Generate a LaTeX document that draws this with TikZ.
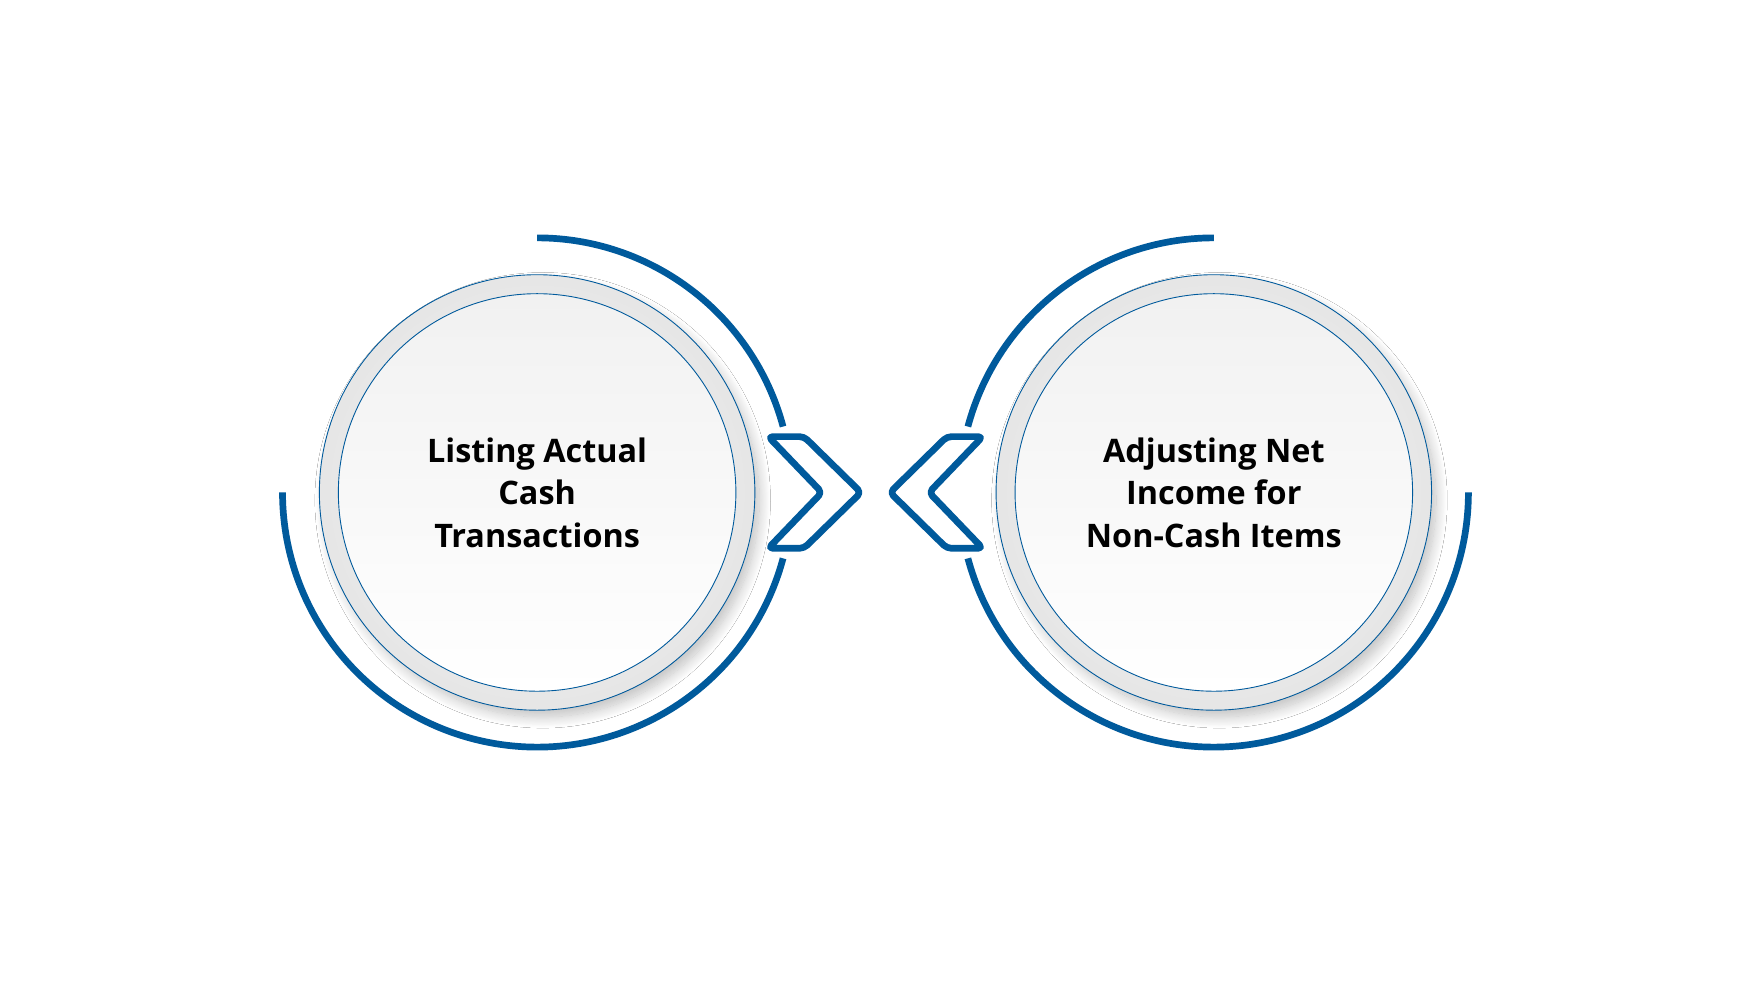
\documentclass[tikz,border=0pt]{standalone}
\usepackage{fontspec}
\setmainfont{Open Sans}
\usetikzlibrary{shadows.blur}
\definecolor{cblue}{RGB}{0,90,156}
\begin{document}
\begin{tikzpicture}[x=1pt,y=-1pt,
  arcline/.style={draw=cblue,line width=6pt},
  chev/.style={draw=cblue,line width=6pt,fill=white,rounded corners=4pt,line join=round},
  lbl/.style={font=\bfseries\fontsize{29}{38}\selectfont,align=center,text=black}]
\useasboundingbox (0,0) rectangle (1560,878);
\fill[white] (0,0) rectangle (1560,878);
\foreach \cx/\nm in {481/L,1087/R}{
  \fill[white,blur shadow={shadow blur steps=15,shadow xshift=5pt,shadow yshift=-7pt,shadow blur radius=10pt,shadow opacity=25}] (\cx,441) circle (194);
  \shade[inner color=gray!4,outer color=gray!20,draw=cblue,line width=0.8pt] (\cx,441) circle (195);
  \shade[top color=gray!11,bottom color=white,draw=cblue,line width=0.8pt] (\cx,441) circle (178);
}
\node[lbl] (tL) at (481,441) {Listing Actual\\Cash\\Transactions};
\node[lbl] (tR) at (1087,441) {Adjusting Net\\Income for\\Non-Cash Items};
\draw[arcline] (481,441) ++(-90:228) arc[start angle=-90,end angle=-15,radius=228];
\draw[arcline] (481,441) ++(15:228) arc[start angle=15,end angle=180,radius=228];
\draw[arcline] (1087,441) ++(-90:228) arc[start angle=-90,end angle=-165,radius=228];
\draw[arcline] (1087,441) ++(165:228) arc[start angle=165,end angle=0,radius=228];
\draw[chev] (688,391) -- (720,391) -- (771,441) -- (720,491) -- (688,491) -- (736,441) -- cycle;
\draw[chev] (880,391) -- (848,391) -- (797,441) -- (848,491) -- (880,491) -- (832,441) -- cycle;
\end{tikzpicture}
\end{document}
